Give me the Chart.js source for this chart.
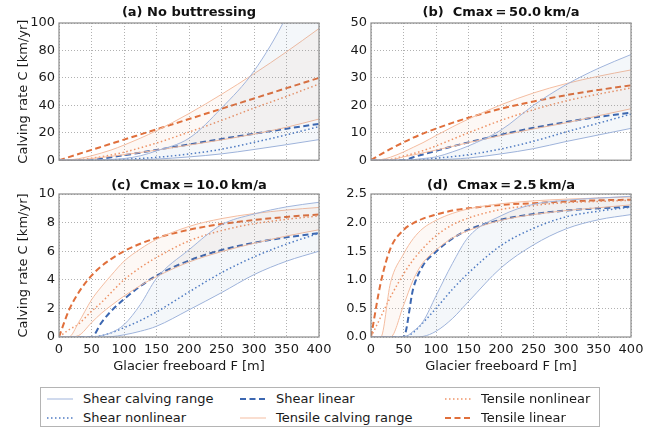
<!DOCTYPE html>
<html>
<head>
<meta charset="utf-8">
<script src="https://cdn.jsdelivr.net/npm/chart.js@4.4.1/dist/chart.umd.min.js"></script>
<style>
  body { margin: 0; background: #fff; }
  #fig { position: relative; width: 654px; height: 430px; overflow: hidden; font-family: "DejaVu Sans", sans-serif; }
  #fig canvas { position: absolute; }
  #legend { position: absolute; left: 40px; top: 387px; width: 560px; height: 40px; border: 1px solid #b4b4b4; box-sizing: border-box; }
  .item { position: absolute; font-size: 13px; color: #1a1a1a; white-space: nowrap; line-height: 16px; }
  .item svg { position: absolute; left: 0; top: 5px; }
  .item span { position: absolute; left: 36px; top: 0; }
</style>
</head>
<body>
<div id="fig">
  <canvas id="c0" width="340" height="172" style="left:0;top:0"></canvas>
  <canvas id="c1" width="327" height="172" style="left:327px;top:0"></canvas>
  <canvas id="c2" width="340" height="203" style="left:0;top:172px"></canvas>
  <canvas id="c3" width="327" height="203" style="left:327px;top:172px"></canvas>
  <div id="legend"></div>
</div>
<script>
// freeboard F [m], shared by all panels
const freeboard = [0, 15, 30, 50, 65, 80, 100, 125, 150, 200, 250, 300, 350, 400];

// one row per panel: (a) no buttressing, (b) Cmax 50, (c) Cmax 10, (d) Cmax 2.5
const shearUpper = [
  [0, 0, 0, 0, 0.2, 0.6, 1.2, 3.2, 6.8, 16, 38, 65, 105, 160],
  [0, 0, 0, 0, 0.2, 0.6, 1.2, 3, 5.2, 11, 20, 27.5, 33.5, 38.5],
  [0, 0, 0, 0, 0.1, 0.3, 0.86, 2.26, 4.1, 6.1, 7.85, 8.6, 9.1, 9.42],
  [0, 0, 0, 0, 0.1, 0.27, 0.72, 1.28, 1.75, 2.12, 2.32, 2.39, 2.43, 2.46]
];
const shearLower = [
  [0, 0, 0, 0, 0, 0.02, 0.15, 0.4, 0.8, 2.4, 4.6, 7.8, 11.3, 15],
  [0, 0, 0, 0, 0, 0.02, 0.15, 0.4, 0.8, 2.3, 4.2, 6.8, 9.2, 11.6],
  [0, 0, 0, 0, 0, 0.02, 0.15, 0.4, 0.75, 1.9, 3.1, 4.36, 5.3, 6.0],
  [0, 0, 0, 0, 0, 0.01, 0.1, 0.32, 0.62, 1.21, 1.61, 1.89, 2.05, 2.14]
];
const shearLinear = [
  [0, 0, 0, 0, 1.1, 2.2, 3.6, 5.5, 7.5, 11.5, 15.5, 19.3, 23, 26.5],
  [0, 0, 0, 0, 1.1, 2.1, 3.4, 5, 6.5, 9.3, 11.8, 13.9, 15.8, 17.3],
  [0, 0, 0, 0, 0.99, 1.8, 2.65, 3.55, 4.29, 5.35, 6.08, 6.59, 6.97, 7.26],
  [0, 0, 0, 0, 0.85, 1.25, 1.49, 1.72, 1.875, 2.05, 2.15, 2.21, 2.25, 2.28]
];
const shearNonlinear = [
  [0, 0, 0, 0, 0.1, 0.3, 0.7, 1.3, 2.1, 4.5, 8, 13, 18.5, 24.5],
  [0, 0, 0, 0, 0.1, 0.3, 0.7, 1.3, 2, 4.1, 6.9, 10.3, 13.5, 16.8],
  [0, 0, 0, 0, 0.1, 0.29, 0.65, 1.15, 1.75, 3.15, 4.5, 5.6, 6.5, 7.25],
  [0, 0, 0, 0, 0.08, 0.25, 0.5, 0.83, 1.12, 1.6, 1.9, 2.1, 2.2, 2.27]
];
const tensileUpper = [
  [0, 0.2, 1.1, 3.2, 5.2, 7.4, 11, 16, 21.5, 34, 48, 63, 79, 96],
  [0, 0.2, 1.1, 3, 4.7, 6.4, 9, 12.1, 15, 20.2, 24.5, 27.9, 30.6, 32.9],
  [0, 0, 1.0, 2.6, 3.5, 4.3, 5.3, 6.15, 6.83, 7.73, 8.28, 8.63, 8.88, 9.06],
  [0, 0, 0.95, 1.45, 1.72, 1.9, 2.04, 2.16, 2.24, 2.33, 2.38, 2.41, 2.43, 2.45]
];
const tensileLower = [
  [0, 0, 0.1, 1.2, 2, 2.8, 4, 5.6, 7.3, 11, 14.8, 19, 24, 30],
  [0, 0, 0.1, 1.2, 1.9, 2.65, 3.7, 5, 6.4, 9, 11.4, 13.6, 16.2, 18.75],
  [0, 0, 0.1, 1.0, 1.65, 2.19, 2.86, 3.59, 4.22, 5.24, 5.97, 6.55, 7.06, 7.5],
  [0, 0, 0, 0.55, 1.0, 1.3, 1.52, 1.73, 1.86, 2.04, 2.14, 2.21, 2.26, 2.31]
];
const tensileLinear = [
  [0, 2.25, 4.5, 7.5, 9.75, 12, 15, 18.75, 22.5, 30, 37.5, 45, 52.5, 60],
  [0, 2.15, 4.1, 6.5, 8.2, 9.7, 11.5, 13.6, 15.5, 18.75, 21.4, 23.7, 25.6, 27.3],
  [0, 1.84, 3.1, 4.29, 4.94, 5.45, 6.0, 6.52, 6.92, 7.5, 7.9, 8.18, 8.4, 8.57],
  [0, 0.95, 1.55, 1.87, 1.99, 2.07, 2.14, 2.21, 2.25, 2.31, 2.34, 2.37, 2.39, 2.4]
];
const tensileNonlinear = [
  [0, 0, 0.3, 1.5, 2.5, 3.8, 5.8, 9, 12.5, 20.5, 29, 38, 46.5, 55.5],
  [0, 0, 0.3, 1.45, 2.4, 3.5, 5.2, 7.6, 10, 14.5, 18.4, 21.6, 24.1, 26.3],
  [0, 0.5, 0.9, 1.8, 2.4, 3.1, 4.0, 4.85, 5.56, 6.72, 7.44, 7.92, 8.23, 8.47],
  [0, 0.35, 0.7, 1.1, 1.35, 1.55, 1.77, 1.96, 2.08, 2.23, 2.3, 2.35, 2.37, 2.39]
];

const panelTitles = [
  '(a) No buttressing',
  '(b)  Cmax\u2009=\u200950.0\u2009km/a',
  '(c)  Cmax\u2009=\u200910.0\u2009km/a',
  '(d)  Cmax\u2009=\u20092.5\u2009km/a'
];
const yMax = [100, 50, 10, 2.5];
const yStep = [20, 10, 2, 0.5];
const yDecimals = [0, 0, 0, 1];

// line styles
const sty = {
  shearRange:  { color: '#a1b5dc', width: 1,   dash: [] },
  shearLinear: { color: '#3c67b1', width: 2,   dash: [6, 3.5] },
  shearNonlin: { color: '#4f7bc4', width: 1.5, dash: [1.5, 2.5] },
  tensRange:   { color: '#f4bda1', width: 1,   dash: [] },
  tensLinear:  { color: '#e06f3b', width: 2,   dash: [6, 3.5] },
  tensNonlin:  { color: '#ef9468', width: 1.5, dash: [1.5, 2.5] }
};

Chart.defaults.font.family = '"DejaVu Sans", sans-serif';
Chart.defaults.font.size = 13;
Chart.defaults.color = '#1a1a1a';
Chart.defaults.animation = false;

// layout of each canvas (so the plot boxes line up like the figure)
const boxes = [
  { yw: 59, padR: 21, xh: 6,  bottomRow: false, leftCol: true },
  { yw: 44, padR: 23, xh: 6,  bottomRow: false, leftCol: false },
  { yw: 59, padR: 21, xh: 38, bottomRow: true,  leftCol: true },
  { yw: 44, padR: 23, xh: 38, bottomRow: true,  leftCol: false }
];

const framePlugin = {
  id: 'frame',
  afterDatasetsDraw(chart) {
    const { ctx, chartArea: a } = chart;
    ctx.save();
    ctx.strokeStyle = '#8c8c8c';
    ctx.lineWidth = 1.2;
    ctx.strokeRect(a.left, a.top, a.right - a.left, a.bottom - a.top);
    ctx.restore();
  }
};

function line(label, values, st, extra) {
  return Object.assign({
    label: label,
    data: freeboard.map((f, i) => ({ x: f, y: values[i] })),
    borderColor: st.color,
    borderWidth: st.width,
    borderDash: st.dash,
    pointRadius: 0,
    fill: false,
    cubicInterpolationMode: 'monotone',
    clip: 0
  }, extra || {});
}

function makePanel(p) {
  const box = boxes[p];
  const datasets = [
    line('Shear calving range', shearUpper[p], sty.shearRange, { fill: '+1', backgroundColor: 'rgba(76,114,176,0.06)' }),
    line('Shear calving range (low)', shearLower[p], sty.shearRange),
    line('Tensile calving range', tensileUpper[p], sty.tensRange, { fill: '+1', backgroundColor: 'rgba(221,132,82,0.06)' }),
    line('Tensile calving range (low)', tensileLower[p], sty.tensRange),
    line('Shear nonlinear', shearNonlinear[p], sty.shearNonlin),
    line('Tensile nonlinear', tensileNonlinear[p], sty.tensNonlin),
    line('Shear linear', shearLinear[p], sty.shearLinear),
    line('Tensile linear', tensileLinear[p], sty.tensLinear)
  ];

  new Chart(document.getElementById('c' + p), {
    type: 'line',
    data: { datasets: datasets },
    plugins: [framePlugin],
    options: {
      responsive: false,
      devicePixelRatio: 1,
      layout: { padding: { left: 0, right: box.padR, top: 0, bottom: 0 } },
      plugins: {
        legend: { display: false },
        tooltip: { enabled: false },
        title: {
          display: true,
          text: panelTitles[p],
          fullSize: false,
          color: '#111',
          font: { size: 13, weight: 'bold' },
          padding: box.bottomRow ? { top: 6.2, bottom: 0.2 } : { top: 5, bottom: 2.4 }
        }
      },
      scales: {
        x: {
          type: 'linear',
          min: 0,
          max: 400,
          afterFit: s => { s.height = box.xh; },
          grid: { color: '#a8a8a8', lineWidth: 0.9, drawTicks: false },
          border: { display: false, dash: [1, 2] },
          ticks: {
            display: box.bottomRow,
            stepSize: 50,
            padding: 5,
            autoSkip: false,
            maxRotation: 0
          },
          title: {
            display: box.bottomRow,
            text: 'Glacier freeboard F [m]',
            font: { size: 13 },
            padding: { top: 0, bottom: 0.5 }
          }
        },
        y: {
          min: 0,
          max: yMax[p],
          afterFit: s => { s.width = box.yw; },
          grid: { color: '#a8a8a8', lineWidth: 0.9, drawTicks: false },
          border: { display: false, dash: [1, 2] },
          ticks: {
            stepSize: yStep[p],
            padding: 4,
            callback: v => Number(v).toFixed(yDecimals[p])
          },
          title: {
            display: box.leftCol,
            text: 'Calving rate C [km/yr]',
            font: { size: 13 },
            padding: { top: 16, bottom: 0 }
          }
        }
      }
    }
  });
}

for (let p = 0; p < 4; p++) makePanel(p);

// legend below the panels, three columns like the figure
const legendEntries = [
  ['Shear calving range', sty.shearRange],
  ['Shear nonlinear', sty.shearNonlin],
  ['Shear linear', sty.shearLinear],
  ['Tensile calving range', sty.tensRange],
  ['Tensile nonlinear', sty.tensNonlin],
  ['Tensile linear', sty.tensLinear]
];
const colX = [6, 199, 404];
const rowY = [3, 22];
let html = '';
legendEntries.forEach((e, i) => {
  const col = Math.floor(i / 2), row = i % 2;
  const st = e[1];
  html += '<div class="item" style="left:' + colX[col] + 'px;top:' + rowY[row] + 'px">' +
    '<svg width="26" height="6"><line x1="0" y1="3" x2="26" y2="3" stroke="' + st.color +
    '" stroke-width="' + st.width + '" stroke-dasharray="' + (st.dash.length ? st.dash.join(' ') : 'none') + '"/></svg>' +
    '<span>' + e[0] + '</span></div>';
});
document.getElementById('legend').innerHTML = html;
</script>
</body>
</html>
